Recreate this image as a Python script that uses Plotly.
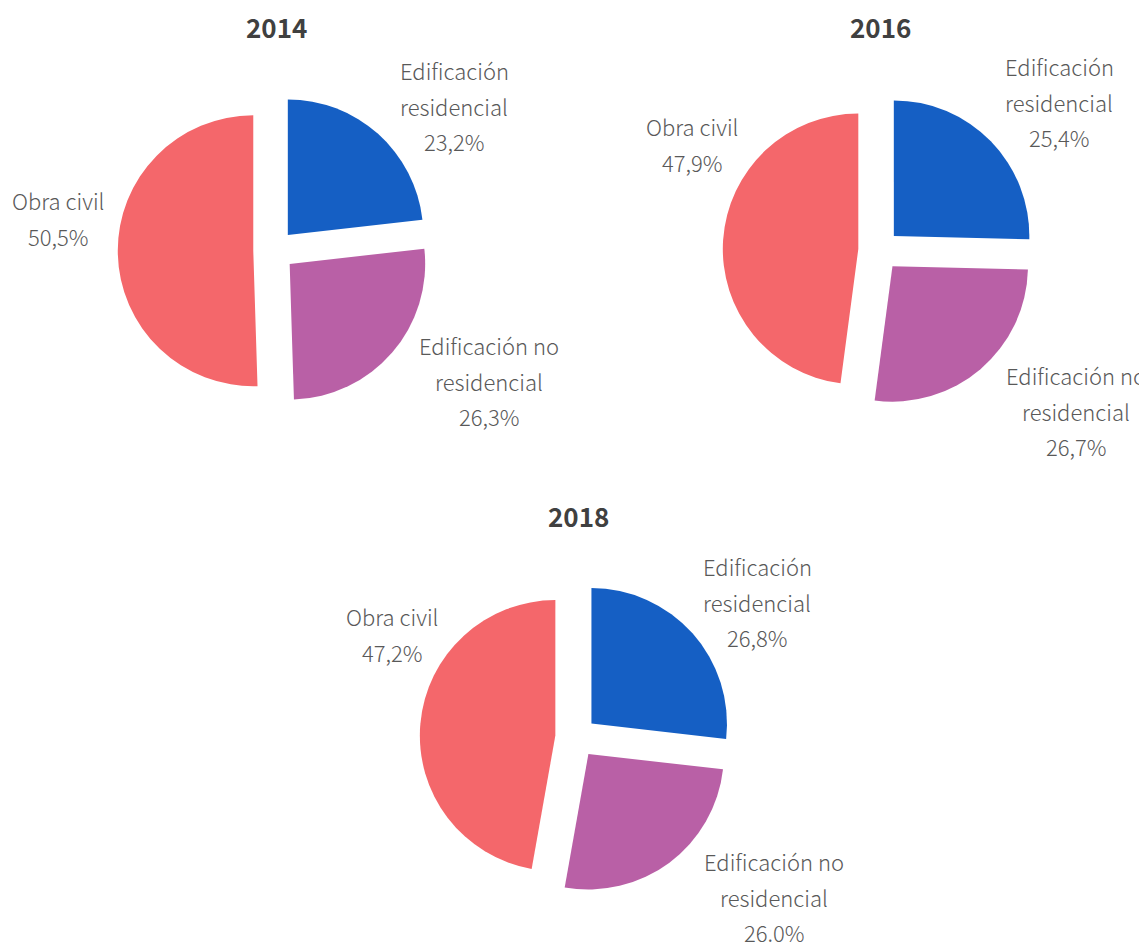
import plotly.graph_objects as go

# ---- data ----
years = ["2014", "2016", "2018"]
categories = ["Edificación residencial", "Edificación no residencial", "Obra civil"]
category_lines = [["Edificación", "residencial"], ["Edificación no", "residencial"], ["Obra civil"]]
values_2014 = [23.2, 26.3, 50.5]
values_2016 = [25.4, 26.7, 47.9]
values_2018 = [26.8, 26.0, 47.2]
pct_text_2014 = ["23,2%", "26,3%", "50,5%"]
pct_text_2016 = ["25,4%", "26,7%", "47,9%"]
pct_text_2018 = ["26,8%", "26.0%", "47,2%"]
colors = ["#155FC4", "#B960A6", "#F4676B"]

# ---- layout (screen pixels; page body adds an 8px offset) ----
W, H = 1147, 942
OFF = 8
R = 135.5
PULL = 0.153
centers = [(274, 250.4), (879, 250.4), (576, 737.4)]
title_pos = [(276, 27), (880, 27), (578, 515)]
# (x center, y of first line) for each category label
label_pos = [
    [(454, 70), (489, 345), (58, 200)],
    [(1059, 66), (1076, 375), (692, 126)],
    [(757, 566), (774, 861), (392, 616)],
]
LINE_H = 35.5


def px(x):
    return (x - OFF) / W


def py(y):
    return 1 - (y - OFF) / H


all_values = [values_2014, values_2016, values_2018]
all_pct = [pct_text_2014, pct_text_2016, pct_text_2018]

fig = go.Figure()
half = R * (1 + PULL)
annotations = []
for i, yr in enumerate(years):
    cx, cy = centers[i]
    fig.add_trace(go.Pie(
        labels=categories,
        values=all_values[i],
        sort=False,
        direction="clockwise",
        rotation=0,
        pull=[PULL] * 3,
        marker=dict(colors=colors, line=dict(width=0)),
        textinfo="none",
        hoverinfo="label+percent",
        showlegend=False,
        domain=dict(x=[px(cx - half), px(cx + half)],
                    y=[py(cy + half), py(cy - half)]),
    ))
    tx, ty = title_pos[i]
    annotations.append(dict(
        text="<b>%s</b>" % yr, x=px(tx), y=py(ty), xref="paper", yref="paper",
        showarrow=False, xanchor="center", yanchor="middle",
        font=dict(family="Noto Sans CJK JP", size=26, color="#404040")))
    for j in range(3):
        lx, ly = label_pos[i][j]
        lines = category_lines[j] + [all_pct[i][j]]
        for k, line in enumerate(lines):
            annotations.append(dict(
                text=line, x=px(lx), y=py(ly + k * LINE_H),
                xref="paper", yref="paper", showarrow=False,
                xanchor="center", yanchor="middle",
                font=dict(family="Noto Sans CJK JP", size=22, color="#595959",
                          weight=300)))

fig.update_layout(
    width=W, height=H,
    margin=dict(l=0, r=0, t=0, b=0),
    paper_bgcolor="white", plot_bgcolor="white",
    annotations=annotations,
)
fig.write_html("out.html")
